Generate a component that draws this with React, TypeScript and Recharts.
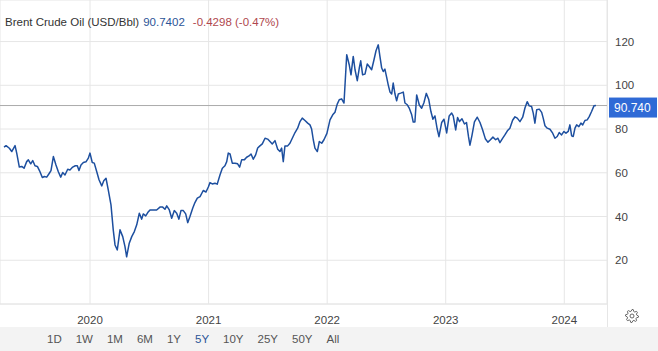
import React from 'react';
import { LineChart, Line, XAxis, YAxis, CartesianGrid, ReferenceLine } from 'recharts';

const years = [
  2019.275, 2019.292, 2019.32, 2019.34, 2019.368, 2019.382, 2019.404, 2019.424, 2019.444, 2019.466,
  2019.48, 2019.5, 2019.517, 2019.536, 2019.556, 2019.578, 2019.598, 2019.615, 2019.635, 2019.657,
  2019.671, 2019.691, 2019.713, 2019.733, 2019.753, 2019.77, 2019.789, 2019.812, 2019.831, 2019.854,
  2019.876, 2019.893, 2019.907, 2019.924, 2019.944, 2019.966, 2019.986, 2020.0, 2020.019, 2020.036,
  2020.057, 2020.076, 2020.099, 2020.116, 2020.135, 2020.154, 2020.177, 2020.196, 2020.211, 2020.23,
  2020.253, 2020.276, 2020.295, 2020.309, 2020.331, 2020.352, 2020.374, 2020.394, 2020.416, 2020.436,
  2020.449, 2020.47, 2020.487, 2020.506, 2020.534, 2020.562, 2020.59, 2020.613, 2020.632, 2020.647,
  2020.669, 2020.689, 2020.711, 2020.731, 2020.75, 2020.767, 2020.787, 2020.807, 2020.824, 2020.843,
  2020.866, 2020.885, 2020.905, 2020.928, 2020.955, 2020.978, 2020.998, 2021.012, 2021.031, 2021.054,
  2021.073, 2021.096, 2021.116, 2021.138, 2021.153, 2021.166, 2021.181, 2021.2, 2021.223, 2021.245,
  2021.262, 2021.279, 2021.301, 2021.321, 2021.341, 2021.358, 2021.377, 2021.397, 2021.414, 2021.433,
  2021.453, 2021.476, 2021.498, 2021.518, 2021.537, 2021.56, 2021.583, 2021.602, 2021.616, 2021.63,
  2021.644, 2021.667, 2021.686, 2021.706, 2021.729, 2021.751, 2021.771, 2021.79, 2021.813, 2021.836,
  2021.855, 2021.869, 2021.883, 2021.897, 2021.917, 2021.934, 2021.954, 2021.973, 2021.998, 2022.024,
  2022.047, 2022.066, 2022.085, 2022.102, 2022.122, 2022.142, 2022.165, 2022.186, 2022.201, 2022.22,
  2022.235, 2022.254, 2022.271, 2022.283, 2022.299, 2022.319, 2022.338, 2022.355, 2022.375, 2022.395,
  2022.412, 2022.431, 2022.445, 2022.46, 2022.473, 2022.487, 2022.502, 2022.515, 2022.53, 2022.544,
  2022.557, 2022.572, 2022.586, 2022.6, 2022.62, 2022.642, 2022.656, 2022.676, 2022.692, 2022.713,
  2022.726, 2022.74, 2022.755, 2022.777, 2022.797, 2022.816, 2022.836, 2022.857, 2022.875, 2022.892,
  2022.909, 2022.928, 2022.943, 2022.966, 2022.985, 2023.008, 2023.029, 2023.05, 2023.063, 2023.084,
  2023.1, 2023.116, 2023.137, 2023.158, 2023.175, 2023.192, 2023.204, 2023.221, 2023.242, 2023.266,
  2023.289, 2023.31, 2023.335, 2023.356, 2023.377, 2023.398, 2023.421, 2023.44, 2023.457, 2023.478,
  2023.499, 2023.52, 2023.541, 2023.564, 2023.584, 2023.603, 2023.626, 2023.649, 2023.668, 2023.687,
  2023.704, 2023.724, 2023.738, 2023.752, 2023.767, 2023.789, 2023.809, 2023.822, 2023.837, 2023.856,
  2023.879, 2023.902, 2023.921, 2023.94, 2023.957, 2023.977, 2023.997, 2024.014, 2024.033, 2024.047,
  2024.062, 2024.075, 2024.09, 2024.104, 2024.123, 2024.14, 2024.155, 2024.174, 2024.193, 2024.21,
  2024.23, 2024.25, 2024.267,
];

// Brent, USD per barrel
const prices = [
  71.7, 72.4, 71.2, 69.7, 72.4, 69.0, 62.6, 62.9, 62.1, 65.1,
  65.9, 64.1, 65.6, 63.2, 62.9, 60.5, 57.8, 58.3, 58.0, 59.8,
  61.0, 67.4, 63.6, 60.5, 58.0, 60.1, 59.0, 61.6, 61.3, 62.6,
  63.2, 63.2, 61.0, 63.6, 64.7, 65.0, 66.7, 69.0, 64.7, 64.4,
  60.5, 56.8, 54.0, 56.4, 57.5, 52.2, 45.3, 33.9, 27.0, 24.7,
  33.9, 30.8, 26.2, 21.6, 27.8, 30.8, 33.1, 36.2, 41.5, 38.8,
  41.2, 40.3, 41.8, 43.0, 43.0, 43.0, 44.3, 44.3, 43.3, 44.9,
  43.0, 39.2, 42.7, 41.5, 38.8, 42.7, 42.7, 41.2, 37.2, 40.0,
  43.8, 46.4, 48.4, 49.1, 51.9, 51.2, 53.5, 55.5, 54.9, 55.2,
  54.8, 59.0, 62.1, 63.2, 65.1, 69.0, 68.6, 64.4, 64.4, 64.1,
  62.6, 65.9, 65.9, 67.1, 67.7, 68.6, 66.2, 68.2, 71.3, 72.3,
  73.2, 75.8, 75.4, 74.3, 73.2, 74.7, 70.8, 69.7, 71.3, 65.1,
  72.3, 72.3, 73.5, 75.8, 78.4, 80.4, 83.4, 85.0, 83.9, 82.7,
  81.9, 80.0, 75.1, 71.3, 69.7, 74.3, 73.5, 75.1, 78.0, 84.2,
  86.5, 87.7, 91.4, 93.4, 93.8, 91.9, 114.0, 109.4, 104.8, 113.2,
  107.1, 102.1, 107.9, 111.2, 104.8, 105.1, 109.7, 108.6, 107.1, 111.7,
  115.8, 118.5, 113.2, 107.9, 106.3, 107.4, 103.6, 100.2, 96.9, 96.0,
  101.0, 96.0, 92.9, 96.0, 96.4, 96.9, 91.9, 91.1, 89.6, 86.5,
  83.2, 83.2, 95.6, 91.0, 89.5, 92.0, 96.3, 93.5, 88.0, 84.5,
  86.0, 80.0, 76.5, 83.0, 84.5, 78.2, 86.0, 87.3, 86.0, 79.6,
  85.3, 83.4, 84.7, 82.3, 83.0, 76.5, 72.6, 77.0, 83.3, 85.4,
  83.0, 79.8, 75.4, 74.0, 75.1, 76.3, 75.1, 75.8, 73.8, 75.6,
  77.3, 79.2, 80.4, 84.0, 85.6, 85.0, 83.4, 85.4, 89.6, 92.5,
  90.6, 90.3, 87.3, 82.7, 88.8, 89.1, 87.6, 85.0, 81.5, 80.4,
  79.9, 78.1, 75.8, 76.6, 78.4, 77.3, 78.9, 78.1, 78.9, 81.9,
  76.9, 76.6, 80.4, 81.9, 81.1, 82.7, 81.9, 83.9, 84.2, 85.7,
  88.0, 90.6, 90.74,
];

const yearTicks = [2020, 2021, 2022, 2023, 2024];
const priceTicks = [20, 40, 60, 80, 100, 120];
const rangeButtons = ['1D', '1W', '1M', '6M', '1Y', '5Y', '10Y', '25Y', '50Y', 'All'];
const activeRange = '5Y';

const lastPrice = 90.7402;
const change = '-0.4298';
const changePct = '-0.47%';

const data = years.map((t, i) => ({ t, price: prices[i] }));

const FONT = '"Liberation Sans", Arial, sans-serif';
const LINE_BLUE = '#1d4f9f';
const GRID = '#e6e6e6';

function PriceTag(props: any) {
  const vb = props.viewBox || {};
  const x = vb.x + vb.width + 2;
  const y = vb.y;
  return (
    <g>
      <rect x={x} y={y - 8} width={48} height={20} fill="#2f6ad6" />
      <text x={x + 5} y={y + 2} dy="0.355em" fill="#fff" fontSize={12} fontFamily={FONT}>
        {lastPrice.toFixed(3)}
      </text>
    </g>
  );
}

function Gear() {
  // outline gear icon, 8 teeth
  const pts: string[] = [];
  for (let i = 0; i < 32; i++) {
    const a = (i / 32) * Math.PI * 2;
    const r = i % 4 < 2 ? 6.5 : 4.8;
    pts.push(`${(7 + r * Math.cos(a)).toFixed(2)},${(7 + r * Math.sin(a)).toFixed(2)}`);
  }
  return (
    <svg width={14} height={14} style={{ position: 'absolute', left: 625, top: 309 }}>
      <polygon points={pts.join(' ')} fill="none" stroke="#666" strokeWidth={1} />
      <circle cx={7} cy={7} r={2} fill="none" stroke="#666" strokeWidth={1} />
    </svg>
  );
}

export default function App() {
  return (
    <div
      style={{
        position: 'relative',
        width: 658,
        height: 351,
        background: '#fff',
        fontFamily: FONT,
        overflow: 'hidden',
      }}
    >
      <style>{'body{margin:0}'}</style>
      <LineChart width={658} height={326} data={data} margin={{ top: 0, right: 0, bottom: 0, left: 0 }}>
        <CartesianGrid stroke={GRID} />
        <XAxis
          dataKey="t"
          type="number"
          domain={[2019.241, 2024.36]}
          allowDataOverflow
          ticks={yearTicks}
          tickFormatter={(v) => String(v)}
          tickLine={false}
          tickMargin={6}
          axisLine={{ stroke: GRID }}
          height={22}
          tick={{ fill: '#444', fontSize: 11.5, fontFamily: FONT }}
        />
        <YAxis
          orientation="right"
          domain={[0, 139]}
          allowDataOverflow
          ticks={priceTicks}
          width={51}
          tickLine={false}
          axisLine={false}
          tick={{ fill: '#444', fontSize: 11.5, fontFamily: FONT, textAnchor: 'start' }}
        />
        <ReferenceLine y={lastPrice} stroke="#ababab" strokeWidth={1} label={<PriceTag />} />
        <Line
          type="linear"
          dataKey="price"
          stroke={LINE_BLUE}
          strokeWidth={1.5}
          strokeLinejoin="round"
          dot={false}
          activeDot={false}
          isAnimationActive={false}
        />
      </LineChart>

      {/* right border of the plot */}
      <div style={{ position: 'absolute', left: 607, top: 0, width: 1, height: 327, background: GRID }} />

      <div
        style={{
          position: 'absolute',
          left: 5,
          top: 17,
          fontSize: 11.5,
          lineHeight: 1,
          whiteSpace: 'nowrap',
        }}
      >
        <span style={{ color: '#333' }}>Brent Crude Oil (USD/Bbl)</span>
        <span style={{ color: '#2c5597', marginLeft: 4 }}>{lastPrice.toFixed(4)}</span>
        <span style={{ color: '#b0484e', marginLeft: 8 }}>
          {change} ({changePct})
        </span>
      </div>

      <Gear />

      <div
        style={{
          position: 'absolute',
          left: 0,
          top: 327,
          width: 658,
          height: 24,
          background: '#f3f3f3',
          display: 'flex',
          alignItems: 'center',
          paddingLeft: 47,
          boxSizing: 'border-box',
          gap: 14,
          fontSize: 11.5,
        }}
      >
        {rangeButtons.map((r) => (
          <span key={r} style={{ color: r === activeRange ? '#2c5597' : '#555' }}>
            {r}
          </span>
        ))}
      </div>
    </div>
  );
}
